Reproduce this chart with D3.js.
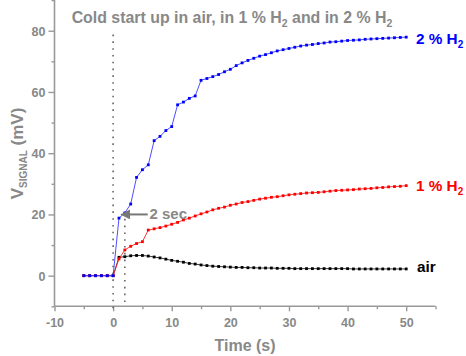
<!DOCTYPE html>
<html><head><meta charset="utf-8">
<script src="https://cdn.jsdelivr.net/npm/d3@7/dist/d3.min.js"></script>
<style>body{margin:0;background:#fff}svg{display:block}text{font-family:Arial,"Liberation Sans",sans-serif;font-weight:bold}</style>
</head><body><svg id="c" width="466" height="356"></svg>
<script>
const time = [-5,-4,-3,-2,-1,0,1,2,3,4,5,6,7,8,9,10,11,12,13,14,15,16,17,18,19,20,21,22,23,24,25,26,27,28,29,30,31,32,33,34,35,36,37,38,39,40,41,42,43,44,45,46,47,48,49,50];
const h2_2 = [0,0,0,0,0,0,18.8,20.5,23.4,32.1,34.6,36.2,44.1,45.5,47.4,48.7,55.8,56.7,57.9,58.7,63.8,64.4,65.0,65.7,66.6,67.4,68.6,69.5,70.3,71.0,71.7,72.2,72.8,73.4,73.8,74.2,74.6,75.0,75.3,75.5,75.8,76.0,76.3,76.4,76.6,76.8,76.9,77.0,77.2,77.3,77.4,77.5,77.6,77.7,77.8,77.9];
const h2_1 = [0,0,0,0,0,0,5.5,8.4,9.6,10.5,11.1,14.9,15.3,15.7,16.2,16.8,17.4,18.2,18.8,19.5,20.2,20.8,21.5,22.0,22.4,23.0,23.4,23.9,24.2,24.6,25.0,25.3,25.6,25.8,26.1,26.4,26.6,26.8,27.0,27.1,27.2,27.4,27.6,27.8,27.9,28.0,28.1,28.3,28.4,28.5,28.7,28.8,29.0,29.1,29.2,29.4];
const air = [0,0,0,0,0,0,6.0,6.2,6.5,6.6,6.6,6.4,6.1,5.8,5.4,5.0,4.7,4.4,4.0,3.8,3.5,3.3,3.1,3.0,2.9,2.8,2.7,2.7,2.6,2.6,2.5,2.5,2.5,2.4,2.4,2.4,2.3,2.3,2.3,2.3,2.3,2.3,2.3,2.3,2.3,2.3,2.2,2.2,2.2,2.2,2.2,2.2,2.2,2.2,2.2,2.2];
const xTicks = [-10,0,10,20,30,40,50];
const yTicks = [0,20,40,60,80];
const seriesNames = ["air","1 % H","2 % H"];

const svg = d3.select("#c");
const grey = "#888888", axisGrey = "#999999";
const x = d3.scaleLinear().domain([-10,55]).range([54.5,435.5]);
const y = d3.scaleLinear().domain([-10,90]).range([306.3,0.1]);

// axes
const gx = svg.append("g").attr("transform","translate(0,306.3)");
gx.call(d3.axisBottom(x).tickValues(d3.range(-10,56,5)).tickSize(3).tickFormat(""));
gx.call(g=>g.selectAll(".tick line").filter(d=>xTicks.includes(d)).attr("y2",5));
gx.selectAll(".tick").filter(d=>xTicks.includes(d)).append("text")
  .attr("y",21).attr("text-anchor","middle").attr("fill",grey).attr("font-size",12.5).text(d=>d);
const gy = svg.append("g").attr("transform","translate(54.5,0)");
gy.call(d3.axisLeft(y).tickValues(d3.range(-10,91,10)).tickSize(3).tickFormat(""));
gy.call(g=>g.selectAll(".tick line").filter(d=>yTicks.includes(d)).attr("x2",-6));
gy.selectAll(".tick").filter(d=>yTicks.includes(d)).append("text")
  .attr("x",-9).attr("dy","0.36em").attr("text-anchor","end").attr("fill",grey).attr("font-size",12.5).text(d=>d);
svg.selectAll(".domain").attr("stroke",axisGrey).attr("stroke-width",1.6);
svg.selectAll(".tick line").attr("stroke",axisGrey).attr("stroke-width",1.4);
gx.select(".domain").attr("d",`M${x(-10)},0H${x(55)}`);
gy.select(".domain").attr("d",`M0,${y(-10)}V${y(90)}`);

// dotted vertical lines
svg.append("line").attr("x1",x(0)).attr("x2",x(0)).attr("y1",y(-10.6)).attr("y2",y(79.5))
  .attr("stroke","#666").attr("stroke-width",1.6).attr("stroke-dasharray","1.6,5.2");
svg.append("line").attr("x1",x(2)).attr("x2",x(2)).attr("y1",y(-8.6)).attr("y2",y(20.5))
  .attr("stroke","#666").attr("stroke-width",1.6).attr("stroke-dasharray","1.6,5.2");

// series
const data = [
  {vals: air, color:"#000000", line:"#222"},
  {vals: h2_1, color:"#ff0000", line:"#ff2020"},
  {vals: h2_2, color:"#0000ff", line:"#3a3aff"}
];
const line = d3.line().x(d=>x(d[0])).y(d=>y(d[1]));
data.forEach(s=>{
  const pts = time.map((t,i)=>[t,s.vals[i]]);
  svg.append("path").datum(pts).attr("d",line).attr("fill","none").attr("stroke",s.line).attr("stroke-width",0.9);
  svg.append("g").selectAll("rect").data(pts).join("rect")
    .attr("x",d=>x(d[0])-1.4).attr("y",d=>y(d[1])-1.4).attr("width",2.8).attr("height",2.8).attr("fill",s.color);
});

// arrow + 2 sec
svg.append("defs").append("marker").attr("id","ah").attr("viewBox","0 0 10 10").attr("refX",1).attr("refY",5)
  .attr("markerWidth",5).attr("markerHeight",5).attr("orient","auto-start-reverse")
  .append("path").attr("d","M0,0L10,5L0,10z").attr("fill","#777");
svg.append("line").attr("x1",x(5.9)).attr("x2",x(2.75)).attr("y1",y(20)).attr("y2",y(20))
  .attr("stroke","#777").attr("stroke-width",2).attr("marker-end","url(#ah)");
svg.append("text").attr("x",x(6.2)).attr("y",y(20)+5).attr("fill",grey).attr("font-size",15).text("2 sec");

// title
const title = svg.append("text").attr("x",232).attr("y",23).attr("text-anchor","middle").attr("fill",grey).attr("font-size",15.9);
title.append("tspan").text("Cold start up in air, in 1 % H");
title.append("tspan").attr("font-size",10.5).attr("dy",4).text("2");
title.append("tspan").attr("dy",-4).text(" and in 2 % H");
title.append("tspan").attr("font-size",10.5).attr("dy",4).text("2");

// series labels
function lbl(xp, yp, color, main, sub){
  const t = svg.append("text").attr("x",xp).attr("y",yp).attr("fill",color).attr("font-size",15.3);
  t.append("tspan").text(main);
  if(sub){ t.append("tspan").attr("font-size",10).attr("dy",4).text(sub); }
}
lbl(416, 43.5, "#0000ff", seriesNames[2], "2");
lbl(416, 191, "#ff0000", seriesNames[1], "2");
lbl(417, 271.5, "#000000", seriesNames[0], null);

// axis titles
svg.append("text").attr("x",245).attr("y",351).attr("text-anchor","middle").attr("fill",grey).attr("font-size",16).text("Time (s)");
const yl = svg.append("text").attr("transform","translate(22.5,153.5) rotate(-90)").attr("text-anchor","middle").attr("fill",grey).attr("font-size",17);
yl.append("tspan").text("V");
yl.append("tspan").attr("font-size",10).attr("dy",4).text("SIGNAL");
yl.append("tspan").attr("dy",-4).text(" (mV)");
</script></body></html>
